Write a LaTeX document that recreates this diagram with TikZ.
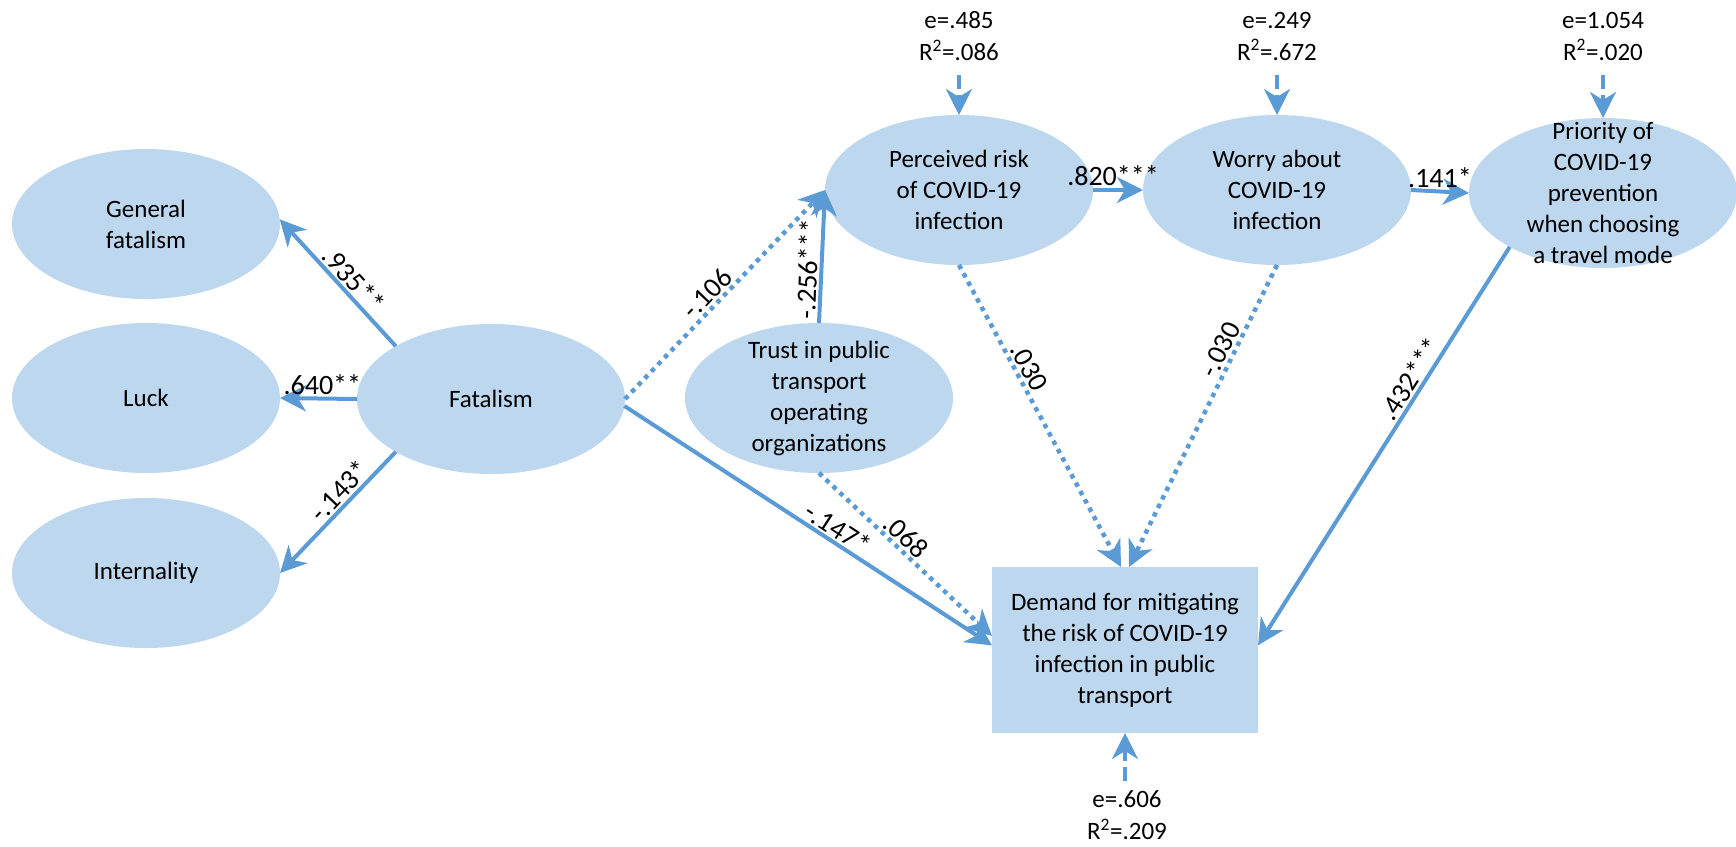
\documentclass[tikz,border=0pt]{standalone}
\usepackage{fontspec}
\setmainfont{Carlito}
\usetikzlibrary{arrows.meta,shapes.geometric,calc}
\definecolor{fillblue}{HTML}{BDD7EE}
\definecolor{lineblue}{HTML}{5B9BD5}
\begin{document}
\begin{tikzpicture}[x=1pt,y=-1pt,
  ell/.style={ellipse, fill=fillblue, minimum width=268pt, minimum height=150pt, inner sep=-30pt, outer sep=0pt, align=center, font=\fontsize{25}{31}\selectfont},
  demandbox/.style={rectangle, fill=fillblue, minimum width=266pt, minimum height=166pt, inner sep=0pt, outer sep=0pt, align=center, font=\fontsize{25}{31}\selectfont},
  arr/.style={draw=lineblue, line width=4pt, -{Stealth[length=26pt,width=26pt,inset=8pt]}},
  dotarr/.style={arr, line width=4.5pt, dash pattern=on 4.5pt off 5pt},
  errarr/.style={arr, dash pattern=on 14pt off 6pt},
  lab/.style={font=\fontsize{28}{32}\selectfont, text=black, inner sep=2pt},
  etxt/.style={align=center, font=\fontsize{25}{32}\selectfont, inner sep=0pt}
]
\useasboundingbox (0,0) rectangle (1736,846);

% nodes
\node[ell] (GF) at (146,224) {General\\fatalism};
\node[ell] (Luck) at (146,398) {Luck};
\node[ell] (Int) at (146,573) {Internality};
\node[ell] (Fat) at (491,399) {Fatalism};
\node[ell] (Tru) at (819,398) {Trust in public\\transport\\operating\\organizations};
\node[ell] (Per) at (959,190) {Perceived risk\\of COVID-19\\infection};
\node[ell] (Wor) at (1277,190) {Worry about\\COVID-19\\infection};
\node[ell] (Pri) at (1603,193) {Priority of\\COVID-19\\prevention\\when choosing\\a travel mode};
\node[demandbox] (Dem) at (1125,650) {Demand for mitigating\\the risk of COVID-19\\infection in public\\transport};

% error terms
\node[etxt] (ePer) at (959,36) {e=.485\\R\textsuperscript{2}=.086};
\node[etxt] (eWor) at (1277,36) {e=.249\\R\textsuperscript{2}=.672};
\node[etxt] (ePri) at (1603,36) {e=1.054\\R\textsuperscript{2}=.020};
\node[etxt] (eDem) at (1127,815) {e=.606\\R\textsuperscript{2}=.209};
\coordinate (sPer) at (959,75);
\coordinate (sWor) at (1277,75);
\coordinate (sPri) at (1603,75);
\coordinate (sDem) at (1125,781);
\draw[errarr] (sPer) -- (Per.north);
\draw[errarr] (sWor) -- (Wor.north);
\draw[errarr] (sPri) -- (Pri.north);
\draw[errarr] (sDem) -- (Dem.south);

% paths
\draw[arr] (Fat.151.6) -- node[lab,sloped,above,pos=0.45]{.935**} (GF.2);
\draw[arr] (Fat.west) -- node[lab,above,pos=0.45]{.640**} (Luck.east);
\draw[arr] (Fat.209.4) -- node[lab,sloped,above,pos=0.4]{-.143*} (Int.0);
\draw[dotarr] (Fat.east) -- node[lab,sloped,above,pos=0.46]{-.106} (Per.west);
\draw[arr] (Tru.north) -- node[lab,sloped,above,pos=0.4]{-.256***} (Per.west);
\draw[arr] (Fat.-3) -- node[lab,sloped,above,pos=0.56]{-.147*} (Dem.178);
\draw[dotarr] (Tru.south) -- node[lab,sloped,above,pos=0.45]{.068} (Dem.174);
\draw[dotarr] (Per.south) -- node[lab,sloped,above,pos=0.36]{.030} ($(Dem.north)+(-4,0)$);
\draw[dotarr] (Wor.south) -- node[lab,sloped,above,pos=0.3]{-.030} ($(Dem.north)+(4,0)$);
\draw[arr] (Pri.210) -- node[lab,sloped,above,pos=0.35]{.432***} (Dem.2);
\draw[arr] (Per.east) -- node[lab,above,pos=0.4]{.820***} (Wor.west);
\draw[arr] (Wor.east) -- node[lab,above,pos=0.5]{.141*} (Pri.west);
\end{tikzpicture}
\end{document}
